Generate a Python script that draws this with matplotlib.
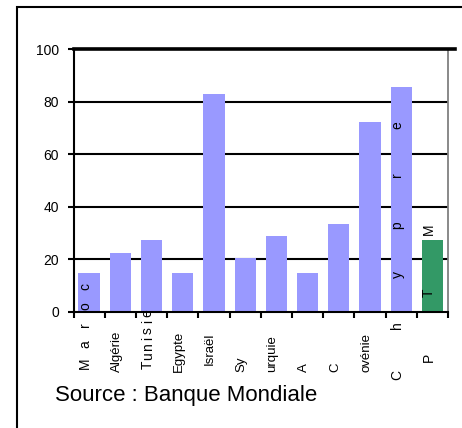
import matplotlib
matplotlib.use("Agg")
import matplotlib.pyplot as plt
import matplotlib.transforms as mtransforms
from matplotlib.patches import Rectangle
import numpy as np

plt.rcParams['font.family'] = ['Liberation Sans', 'DejaVu Sans']

# labels as they appear under each bar
labels = ["Maroc", "Algérie", "Tunisie", "Egypte", "Israël", "Sy",
          "urquie", "A", "C", "ovénie", "Chypre", "PTM"]
values = [14.8, 22.5, 27.2, 14.8, 83.0, 20.3, 28.7, 14.8, 33.3, 72.3, 85.5, 27.2]
colors = ["#9999ff"] * 11 + ["#339966"]
yticks = [0, 20, 40, 60, 80, 100]
source = "Source : Banque Mondiale"

W, H = 462, 428
fig = plt.figure(figsize=(W / 100, H / 100), dpi=100)

# outer frame, cut off at the right and bottom
fig.patches.append(Rectangle((17 / W, -0.1), 1.2, 1 - 7 / H + 0.1,
                             transform=fig.transFigure, fill=False,
                             edgecolor="black", lw=1.5))

ax = fig.add_axes([73.5 / W, 1 - 311.7 / H, (448 - 73.5) / W, (311.7 - 49.3) / H])
x = np.arange(len(values))
ax.bar(x, values, width=0.68, color=colors, zorder=3)

ax.set_xlim(-0.5, len(values) - 0.5)
ax.set_ylim(0, 100)

# grid lines and the heavier line at 100
for v in yticks[1:-1]:
    ax.axhline(v, color="black", lw=1.5, zorder=1)
ax.axhline(100, xmin=0, xmax=(455 - 73.5) / (448 - 73.5), color="black",
           lw=2.6, zorder=4, clip_on=False)

for s in ["left", "bottom"]:
    ax.spines[s].set_linewidth(1.5)
    ax.spines[s].set_zorder(5)
ax.spines["top"].set_visible(False)
ax.spines["right"].set_color("#808080")
ax.spines["right"].set_linewidth(1.3)

ax.set_yticks(yticks)
ax.set_yticklabels([str(v) for v in yticks], fontsize=10)
ax.tick_params(axis="y", direction="out", length=4.5, width=1.5, pad=6)
ax.set_xticks(np.arange(-0.5, len(values)), labels=[])
ax.tick_params(axis="x", direction="out", length=4.5, width=1.5)

# category labels, some with letters spread apart
tr = mtransforms.blended_transform_factory(ax.transData, fig.transFigure)
spread = {"Maroc": (363, 19), "Tunisie": (365, 8.7), "Chypre": (375, 50), "PTM": (357, 64)}
bottoms = {"Israël": 365}
for i, lab in enumerate(labels):
    xc = i - 0.12
    if lab in spread:
        y0, step = spread[lab]
        for k, ch in enumerate(lab):
            ax.text(xc, 1 - (y0 - k * step) / H, ch, rotation=90, ha="center",
                    va="center", fontsize=10, transform=tr, zorder=6)
    else:
        y0 = bottoms.get(lab, 372)
        ax.text(xc, 1 - y0 / H, lab, rotation=90, ha="center", va="bottom",
                fontsize=9.5, transform=tr, zorder=6)

fig.text(55 / W, 1 - 395 / H, source, fontsize=16, va="center", ha="left")

fig.savefig("out.png", dpi=100)
